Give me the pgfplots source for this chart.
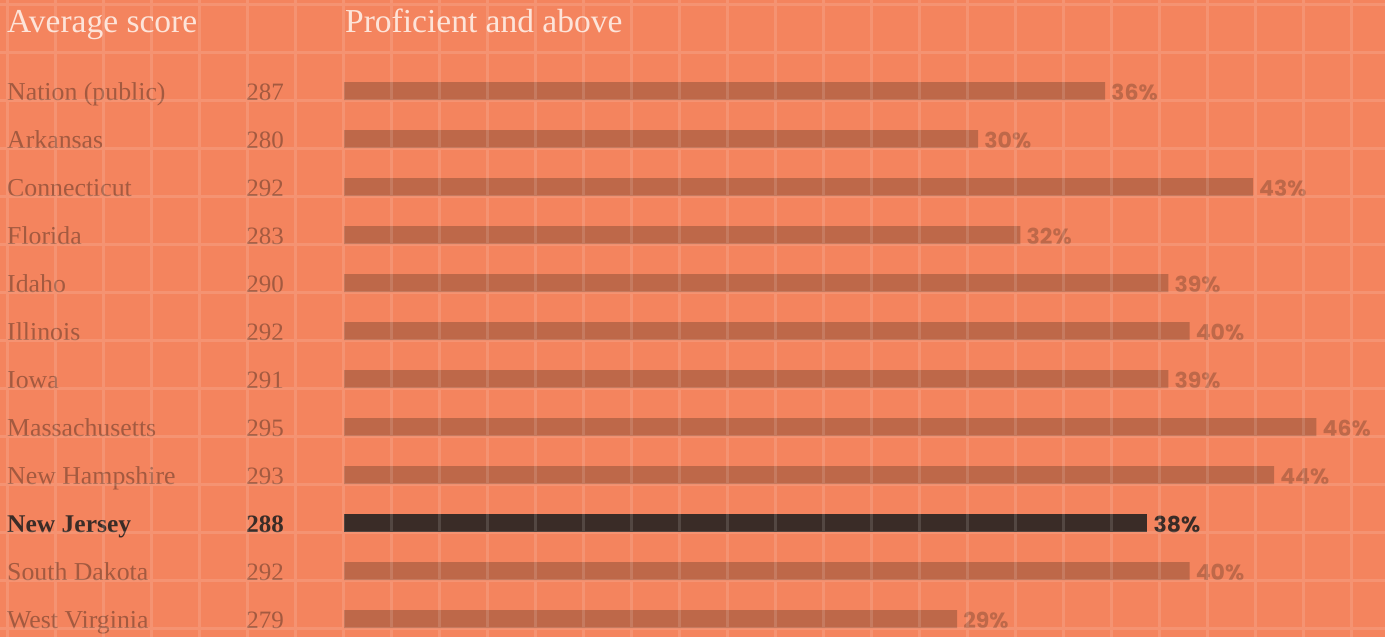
\documentclass[border=0pt]{standalone}
\usepackage{fontspec}
\setmainfont{Liberation Serif}
\newfontfamily\pctfont{Poppins}
\usepackage{pgfplots}
\pgfplotsset{compat=1.18}
\definecolor{bg}{HTML}{F4845E}
\definecolor{barc}{HTML}{BE6849}
\definecolor{dark}{HTML}{3A2C27}
\definecolor{lab}{HTML}{A35A40}
\definecolor{head}{HTML}{FDE4D9}
\begin{document}
\begin{tikzpicture}[x=1pt,y=1pt]
\useasboundingbox (0,0) rectangle (1385,637);
\fill[bg] (0,0) rectangle (1385,637);
\begin{axis}[at={(0,0)}, anchor=south west,
  width=1385pt, height=637pt, scale only axis, hide axis, clip=false,
  xmin=-16.273, xmax=49.246, ymin=-1.8958, ymax=11.375, y dir=reverse]
% bars (percent proficient and above)
\addplot[xbar, fill=barc, draw=none, bar width=18pt, bar shift=0pt,
  nodes near coords={\pctfont\bfseries\pgfmathprintnumber[assume math mode=true]{\pgfplotspointmeta}\%},
  nodes near coords style={anchor=base west, inner sep=0pt, xshift=6pt, yshift=-9pt,
     text=barc, font=\fontsize{22}{24}\selectfont}]
coordinates {(36,0) (30,1) (43,2) (32,3) (39,4) (40,5) (39,6) (46,7) (44,8) (40,10) (29,11)};
\addplot[xbar, fill=dark, draw=none, bar width=18pt, bar shift=0pt,
  nodes near coords={\pctfont\bfseries\pgfmathprintnumber[assume math mode=true]{\pgfplotspointmeta}\%},
  nodes near coords style={anchor=base west, inner sep=0pt, xshift=6pt, yshift=-9pt,
     text=dark, font=\fontsize{22}{24}\selectfont}]
coordinates {(38,9)};
% state names
\addplot[draw=none, mark=none, point meta=explicit symbolic,
  nodes near coords, nodes near coords align={center},
  nodes near coords style={anchor=base west, inner sep=0pt, yshift=-9.5pt, text=lab,
     font=\fontsize{25.8}{28}\selectfont}]
coordinates {(-15.942,0) [Nation (public)] (-15.942,1) [Arkansas] (-15.942,2) [Connecticut]
 (-15.942,3) [Florida] (-15.942,4) [Idaho] (-15.942,5) [Illinois] (-15.942,6) [Iowa]
 (-15.942,7) [Massachusetts] (-15.942,8) [New Hampshire] (-15.942,10) [South Dakota]
 (-15.942,11) [West Virginia]};
\addplot[draw=none, mark=none, point meta=explicit symbolic,
  nodes near coords, nodes near coords align={center},
  nodes near coords style={anchor=base west, inner sep=0pt, yshift=-9.5pt, text=dark,
     font=\fontsize{25.5}{28}\selectfont\bfseries}]
coordinates {(-15.942,9) [New Jersey]};
% average scores
\addplot[draw=none, mark=none, point meta=explicit symbolic,
  nodes near coords, nodes near coords align={center},
  nodes near coords style={anchor=base east, inner sep=0pt, yshift=-9.5pt, text=lab,
     font=\fontsize{25}{28}\selectfont}]
coordinates {(-2.838,0) [287] (-2.838,1) [280] (-2.838,2) [292] (-2.838,3) [283]
 (-2.838,4) [290] (-2.838,5) [292] (-2.838,6) [291] (-2.838,7) [295] (-2.838,8) [293]
 (-2.838,10) [292] (-2.838,11) [279]};
\addplot[draw=none, mark=none, point meta=explicit symbolic,
  nodes near coords, nodes near coords align={center},
  nodes near coords style={anchor=base east, inner sep=0pt, yshift=-9.5pt, text=dark,
     font=\fontsize{25}{28}\selectfont\bfseries}]
coordinates {(-2.838,9) [288]};
\end{axis}
\node[anchor=base west, inner sep=0pt, text=head, font=\fontsize{33.5}{36}\selectfont] at (7,604) {Average score};
\node[anchor=base west, inner sep=0pt, text=head, font=\fontsize{33.5}{36}\selectfont] at (345,604) {Proficient and above};
\draw[white, opacity=0.13, line width=3pt]
  \foreach \k in {0,...,28} { ({7+48*\k},0) -- ({7+48*\k},637) }
  \foreach \k in {0,...,13} { (0,{632-48*\k}) -- (1385,{632-48*\k}) };
\end{tikzpicture}
\end{document}
